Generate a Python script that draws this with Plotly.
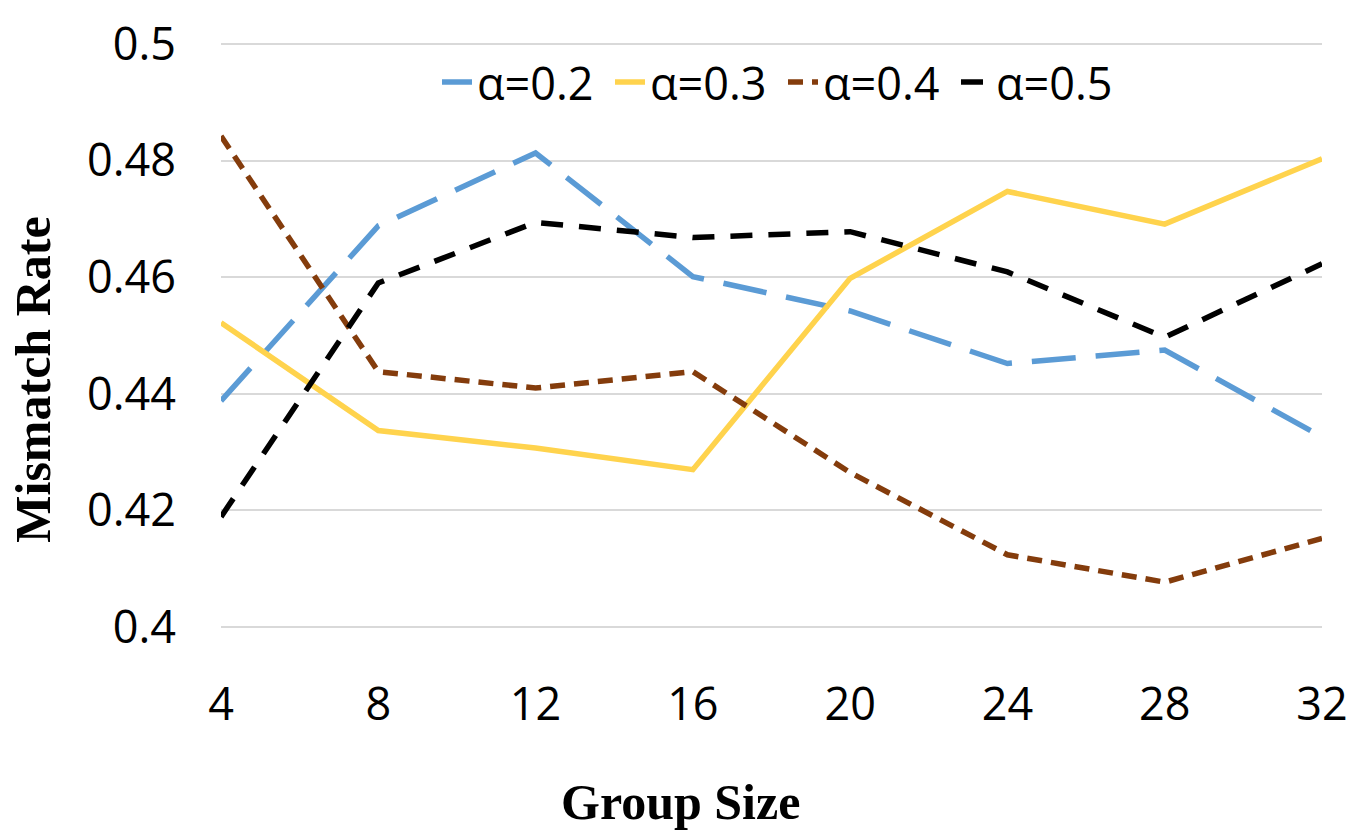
import plotly.graph_objects as go

group_size = [4, 8, 12, 16, 20, 24, 28, 32]
alpha_02 = [0.4388, 0.4688, 0.4813, 0.4601, 0.4542, 0.4452, 0.4475, 0.4326]
alpha_03 = [0.4522, 0.4337, 0.4307, 0.4270, 0.4598, 0.4747, 0.4691, 0.4803]
alpha_04 = [0.4842, 0.4438, 0.4410, 0.4438, 0.4265, 0.4124, 0.4077, 0.4152]
alpha_05 = [0.4189, 0.4590, 0.4694, 0.4668, 0.4678, 0.4609, 0.4497, 0.4623]
y_ticks = [0.4, 0.42, 0.44, 0.46, 0.48, 0.5]
y_tick_text = ["0.4", "0.42", "0.44", "0.46", "0.48", "0.5"]
names = ["α=0.2", "α=0.3", "α=0.4", "α=0.5"]

W, H = 1368, 839
L, R, T, B = 221, 46, 30, 209
pw, ph = W - L - R, H - T - B

def px_x(x):
    return (x - L) / pw

def px_y(y):
    return (H - B - y) / ph

tick_font = dict(family="Open Sans", size=45, color="#000000")
title_font = dict(family="Liberation Serif", size=50, color="#000000")

fig = go.Figure()
series = [
    (alpha_02, "#5B9BD5", "44px,20px"),
    (alpha_03, "#FFD34D", "solid"),
    (alpha_04, "#843C0C", "15px,9px"),
    (alpha_05, "#000000", "22px,16px"),
]
for (vals, col, dash), nm in zip(series, names):
    fig.add_trace(go.Scatter(
        x=group_size, y=vals, mode="lines", name=nm,
        line=dict(color=col, width=5.5, dash=dash),
    ))

fig.update_layout(
    width=W, height=H,
    margin=dict(l=L, r=R, t=T, b=B, pad=0),
    paper_bgcolor="white", plot_bgcolor="white",
    showlegend=True,
    legend=dict(
        orientation="h", x=px_x(437), y=px_y(72), xanchor="left", yanchor="middle",
        font=tick_font, bgcolor="rgba(0,0,0,0)",
        itemwidth=30, tracegroupgap=0, entrywidth=128, entrywidthmode="pixels",
    ),
    xaxis=dict(
        range=[4, 32], tickvals=group_size, ticktext=[str(g) for g in group_size],
        showgrid=False, zeroline=False, showline=False,
        tickfont=tick_font, ticks="", ticklabelstandoff=44,
    ),
    yaxis=dict(
        range=[0.3995, 0.5005], tickvals=y_ticks, ticktext=y_tick_text,
        showgrid=True, gridcolor="#D9D9D9", gridwidth=2, zeroline=False, showline=False,
        tickfont=tick_font, ticks="", ticklabelstandoff=44,
    ),
    annotations=[
        dict(text="<b>Mismatch Rate</b>", x=px_x(33), y=px_y(375), xref="paper", yref="paper",
             xanchor="center", yanchor="middle", textangle=-90, showarrow=False, font=title_font),
        dict(text="<b>Group Size</b>", x=px_x(680), y=px_y(805), xref="paper", yref="paper",
             xanchor="center", yanchor="middle", showarrow=False, font=title_font),
    ],
)

fig.write_html("out.html")
